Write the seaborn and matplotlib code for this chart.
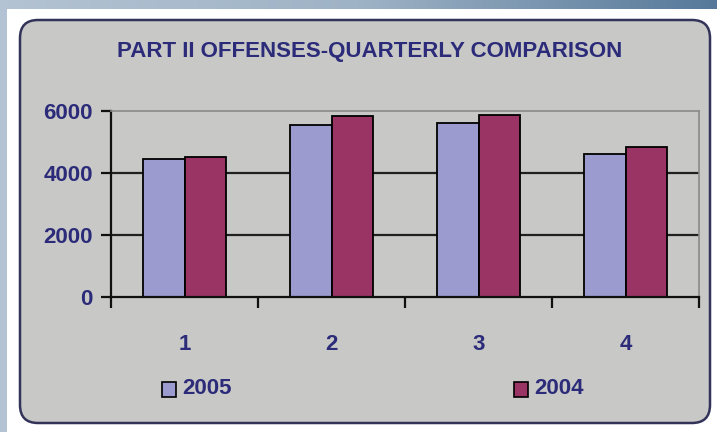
import matplotlib
matplotlib.use("Agg")
import matplotlib.pyplot as plt
import seaborn as sns
import pandas as pd
import numpy as np
from matplotlib.patches import FancyBboxPatch, Rectangle
from matplotlib.colors import LinearSegmentedColormap

quarters = ["1", "2", "3", "4"]
series_names = ["2005", "2004"]
values_2005 = [4450, 5550, 5620, 4600]
values_2004 = [4520, 5850, 5860, 4850]
yticks = [0, 2000, 4000, 6000]
title = "PART II OFFENSES-QUARTERLY COMPARISON"

df = pd.DataFrame({
    "Quarter": quarters * 2,
    "Year": [series_names[0]] * 4 + [series_names[1]] * 4,
    "Value": values_2005 + values_2004,
})

colors = {"2005": "#9b9bd0", "2004": "#9a3464"}
navy = "#2b2b7a"
fontfam = ["Liberation Sans", "DejaVu Sans"]

sns.set_theme(style="white")
plt.rcParams["font.family"] = fontfam

fig = plt.figure(figsize=(7.17, 4.32), dpi=100)
fig.patch.set_facecolor("white")

# background frame: top & left blue-gray strips
bg = fig.add_axes([0, 0, 1, 1], zorder=-10)
bg.set_xlim(0, 717)
bg.set_ylim(432, 0)
bg.axis("off")
grad = np.linspace(0, 1, 256).reshape(1, -1)
cm = LinearSegmentedColormap.from_list("g", ["#b3c3d3", "#9fb3c6", "#56799a"])
bg.imshow(grad, cmap=cm, extent=[0, 717, 9, 0], aspect="auto")
bg.add_patch(Rectangle((0, 0), 7, 432, color="#b3c3d3", lw=0))
bg.add_patch(FancyBboxPatch((20, 20), 690, 403,
                            boxstyle="round,pad=0,rounding_size=18",
                            fc="#c8c8c6", ec="#33335a", lw=1.8))
bg.text(370, 51, title, ha="center", va="center", color=navy,
        fontsize=16, fontweight="bold", family=fontfam)

ax = fig.add_axes([111/717, 1-297/432, (699-111)/717, (297-111)/432])
ax.set_facecolor("#c8c8c6")
sns.barplot(data=df, x="Quarter", y="Value", hue="Year", order=quarters,
            hue_order=series_names, palette=colors, width=0.57, gap=0,
            edgecolor="black", linewidth=1.3, saturation=1, ax=ax,
            legend=False, zorder=3)
ax.set_xlim(-0.5, 3.5)
ax.set_ylim(0, 6000)
ax.set_yticks(yticks)
ax.set_yticklabels([str(v) for v in yticks])
for y in [2000, 4000]:
    ax.axhline(y, color="#202020", lw=1.6, zorder=1)
ax.set_xlabel("")
ax.set_ylabel("")
for s in ["top", "right"]:
    ax.spines[s].set_visible(True)
    ax.spines[s].set_color("#8a8a8a")
    ax.spines[s].set_linewidth(1.2)
for s in ["left", "bottom"]:
    ax.spines[s].set_color("#101010")
    ax.spines[s].set_linewidth(1.6)
ax.spines["bottom"].set_zorder(5)
ax.tick_params(axis="y", left=True, length=7, width=1.6, color="#101010",
               labelsize=16, labelcolor=navy, pad=6)
ax.set_xticks(range(4))
ax.set_xticklabels(quarters)
ax.set_xticks([-0.5, 0.5, 1.5, 2.5, 3.5], minor=True)
ax.tick_params(axis="x", which="major", length=0, labelsize=16,
               labelcolor=navy, pad=27)
ax.tick_params(axis="x", which="minor", bottom=True, length=8, width=1.6,
               color="#101010")
for lab in ax.get_xticklabels() + ax.get_yticklabels():
    lab.set_fontweight("bold")
    lab.set_family(fontfam)

# legend
for (xm, name) in [(162, series_names[0]), (514, series_names[1])]:
    bg.add_patch(Rectangle((xm, 382), 14, 15, fc=colors[name], ec="black", lw=1.2))
    bg.text(xm + 20, 389, name, ha="left", va="center", color=navy,
            fontsize=16, fontweight="bold", family=fontfam)

fig.savefig("out.png", dpi=100)
